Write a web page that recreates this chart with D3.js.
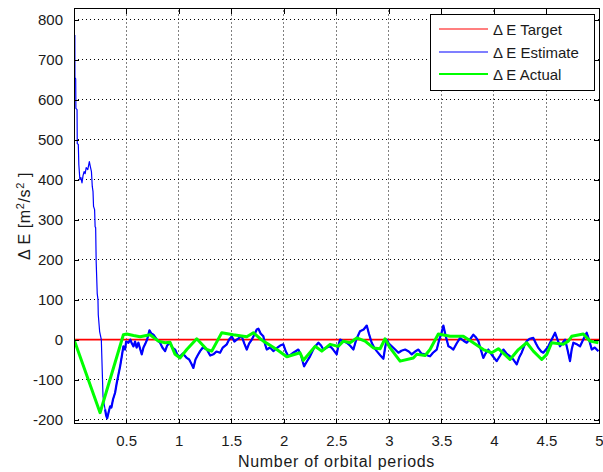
<!DOCTYPE html>
<html>
<head>
<meta charset="utf-8">
<script src="https://cdn.jsdelivr.net/npm/d3@7"></script>
<style>
  html, body { margin: 0; padding: 0; background: #fff; }
  svg text { font-family: "Liberation Sans", Arial, Helvetica, sans-serif; fill: #1a1a1a; }
</style>
</head>
<body>
<svg id="chart" width="603" height="472"></svg>
<script>
// Energy error over orbital periods: target, estimate, actual
const xTicks = [0.5, 1, 1.5, 2, 2.5, 3, 3.5, 4, 4.5, 5];
const xTickLabels = ["0.5", "1", "1.5", "2", "2.5", "3", "3.5", "4", "4.5", "5"];
const yTicks = [-200, -100, 0, 100, 200, 300, 400, 500, 600, 700, 800];
const yTickLabels = ["-200", "-100", "0", "100", "200", "300", "400", "500", "600", "700", "800"];

const targetX = [0.004, 5];
const targetY = [0, 0];

const estimateX = [0.012, 0.013, 0.02, 0.022, 0.033, 0.035, 0.045, 0.05, 0.06, 0.07, 0.08, 0.09, 0.1, 0.11, 0.12, 0.135, 0.15, 0.16, 0.17, 0.178, 0.185, 0.19, 0.2, 0.205, 0.21, 0.215, 0.225, 0.232, 0.235, 0.248, 0.264, 0.28, 0.29, 0.30, 0.31, 0.32, 0.335, 0.348, 0.36, 0.375, 0.395, 0.41, 0.425, 0.443, 0.46, 0.474, 0.49, 0.50, 0.522, 0.54, 0.555, 0.57, 0.585, 0.6, 0.617, 0.635, 0.649, 0.665, 0.68, 0.7, 0.722, 0.74, 0.76, 0.78, 0.8, 0.823, 0.845, 0.871, 0.89, 0.918, 0.94, 0.966, 0.99, 1.014, 1.04, 1.077, 1.1, 1.12, 1.14, 1.16, 1.18, 1.204, 1.23, 1.268, 1.3, 1.33, 1.36, 1.394, 1.42, 1.458, 1.48, 1.505, 1.53, 1.553, 1.58, 1.6, 1.625, 1.648, 1.67, 1.696, 1.72, 1.743, 1.759, 1.78, 1.806, 1.82, 1.838, 1.87, 1.901, 1.94, 1.966, 1.996, 2.02, 2.044, 2.08, 2.11, 2.139, 2.165, 2.193, 2.22, 2.25, 2.29, 2.33, 2.355, 2.377, 2.41, 2.441, 2.47, 2.504, 2.52, 2.536, 2.57, 2.599, 2.63, 2.663, 2.69, 2.726, 2.76, 2.79, 2.81, 2.837, 2.86, 2.885, 2.92, 2.948, 2.965, 2.98, 3.0, 3.028, 3.06, 3.091, 3.12, 3.155, 3.19, 3.218, 3.25, 3.282, 3.31, 3.345, 3.37, 3.392, 3.42, 3.456, 3.48, 3.5, 3.519, 3.54, 3.567, 3.59, 3.614, 3.645, 3.678, 3.71, 3.741, 3.77, 3.804, 3.83, 3.852, 3.875, 3.899, 3.92, 3.947, 3.985, 4.026, 4.06, 4.09, 4.12, 4.153, 4.185, 4.217, 4.24, 4.264, 4.29, 4.312, 4.34, 4.375, 4.4, 4.423, 4.45, 4.47, 4.495, 4.518, 4.55, 4.582, 4.605, 4.629, 4.655, 4.677, 4.7, 4.724, 4.74, 4.756, 4.79, 4.82, 4.85, 4.883, 4.905, 4.931, 4.96, 4.994];
const estimateY = [762, 655, 652, 578, 575, 490, 488, 437, 400, 405, 392, 410, 420, 415, 430, 425, 445, 432, 420, 383, 370, 333, 325, 282, 280, 195, 115, 100, 62, 20, 0, -142, -160, -175, -190, -197, -180, -167, -170, -150, -133, -110, -90, -67, -40, -17, -25, -5, -8, 0, -10, -17, -5, -20, -8, -25, -37, -20, -12, 0, 23, 15, 12, 5, -3, -8, -20, -29, -15, -8, -20, -25, -40, -42, -35, -46, -50, -60, -71, -50, -40, -29, -20, -25, -40, -37, -30, -33, -20, -12, 0, 8, -5, 0, 5, 8, -10, -25, -10, 0, 12, 25, 27, 15, 8, -10, -25, -20, -29, -20, -15, -12, -30, -42, -35, -30, -25, -40, -67, -55, -42, -20, -8, -15, -25, -20, -17, -25, -37, -15, 0, -5, -8, -15, -25, 0, 21, 25, 35, 15, -8, -20, -29, -40, -48, -20, 0, -10, -17, -25, -33, -28, -25, -30, -37, -30, -25, -35, -37, -40, -42, -33, -25, 0, 15, 35, 10, -17, -20, -25, -10, 4, -3, -8, 0, 12, 5, -4, -25, -46, -35, -25, -40, -54, -40, -25, -35, -42, -50, -62, -45, -33, -15, -4, 2, 4, -10, -21, -30, -33, -25, -17, 0, 17, 0, -17, -8, 0, -25, -54, -25, -8, -12, -17, 0, 17, 0, -25, -20, -29];

const actualX = [0.004, 0.252, 0.474, 0.506, 0.57, 0.633, 0.728, 0.807, 0.871, 0.918, 0.966, 1.014, 1.077, 1.172, 1.268, 1.315, 1.41, 1.52, 1.648, 1.711, 1.775, 1.806, 1.934, 2.029, 2.155, 2.187, 2.298, 2.362, 2.441, 2.52, 2.567, 2.631, 2.695, 2.774, 2.853, 2.917, 2.964, 3.012, 3.107, 3.233, 3.266, 3.345, 3.392, 3.471, 3.583, 3.709, 3.804, 3.899, 3.979, 4.042, 4.122, 4.153, 4.233, 4.312, 4.375, 4.455, 4.503, 4.55, 4.66, 4.708, 4.74, 4.851, 4.915, 4.994];
const actualY = [0, -183, 12, 14, 10, 7, 12, -4, -8, -7, -37, -46, -25, 2, -25, -29, 17, 12, 7, 17, 2, -4, -25, -43, -33, -52, -17, -29, -12, -17, -4, -8, 4, -4, -21, -23, 2, -21, -54, -46, -37, -40, -25, 14, 8, 8, -8, -25, -33, -23, -42, -50, -25, -8, -29, -50, -37, -8, -12, -4, 8, 14, -4, -8];

const seriesNames = ["\u0394 E Target", "\u0394 E Estimate", "\u0394 E Actual"];
const seriesColors = ["#ff0000", "#0000ff", "#00ff00"];

const svg = d3.select("#chart");
const plotLeft = 74, plotRight = 599, plotTop = 8.5, plotBottom = 423.5;

const x = d3.scaleLinear().domain([0.004, 5]).range([plotLeft, plotRight]);
const y = d3.scaleLinear().domain([-210, 828]).range([plotBottom, plotTop]);
const snap = v => Math.floor(v) + 0.5;

const plot = svg.append("g");

// white plot area
plot.append("rect").attr("x", plotLeft).attr("y", plotTop)
  .attr("width", plotRight - plotLeft).attr("height", plotBottom - plotTop).attr("fill", "#fff");

// dotted grid
const grid = plot.append("g").attr("stroke", "#000").attr("stroke-width", 1)
  .attr("stroke-dasharray", "1,3");
grid.selectAll("line.gx").data(xTicks.filter(t => t < 5)).join("line").attr("class", "gx")
  .attr("x1", d => snap(x(d))).attr("x2", d => snap(x(d)))
  .attr("y1", plotBottom).attr("y2", plotTop);
grid.selectAll("line.gy").data(yTicks).join("line").attr("class", "gy")
  .attr("y1", d => snap(y(d))).attr("y2", d => snap(y(d)))
  .attr("x1", plotLeft).attr("x2", plotRight);

// target level (flat, lies fully inside the axes)
plot.append("path")
  .attr("d", d3.line().x((d, i) => x(targetX[i])).y(d => y(d))(targetY))
  .attr("fill", "none").attr("stroke", seriesColors[0]).attr("stroke-width", 1.7);

// estimate and actual series
const line = (xs) => d3.line().x((d, i) => x(xs[i])).y(d => y(d));
svg.append("defs").append("clipPath").attr("id", "clip")
  .append("rect").attr("x", plotLeft + 1).attr("y", plotTop)
  .attr("width", plotRight - plotLeft - 1).attr("height", plotBottom - plotTop);
const lines = plot.append("g").attr("clip-path", "url(#clip)").attr("fill", "none")
  .attr("stroke-linejoin", "round");

lines.append("path").attr("d", line(estimateX)(estimateY))
  .attr("stroke", seriesColors[1]).attr("stroke-width", 1.2);
// the noisy settled part of the estimate reads as a thicker band
const settled = estimateX.map((v, i) => i).filter(i => estimateX[i] >= 0.3);
lines.append("path")
  .attr("d", d3.line().x(i => x(estimateX[i])).y(i => y(estimateY[i]))(settled))
  .attr("stroke", seriesColors[1]).attr("stroke-width", 2.2);
lines.append("path").attr("d", line(actualX)(actualY))
  .attr("stroke", seriesColors[2]).attr("stroke-width", 3);

// axes box with inward ticks on all sides
const axisG = plot.append("g").attr("shape-rendering", "crispEdges");
const xb = d3.axisBottom(x).tickValues(xTicks).tickSize(-5).tickFormat((d, i) => xTickLabels[i]).tickPadding(12);
const xt = d3.axisTop(x).tickValues(xTicks).tickSize(-5).tickFormat("");
const yl = d3.axisLeft(y).tickValues(yTicks).tickSize(-5).tickFormat((d, i) => yTickLabels[i]).tickPadding(11);
const yr = d3.axisRight(y).tickValues(yTicks).tickSize(-5).tickFormat("");

function styleAxis(g) {
  g.select(".domain").remove();
  g.selectAll(".tick line").attr("stroke", "#000");
  g.selectAll(".tick text").attr("font-size", 15)
    .attr("font-family", "'Liberation Sans', Arial, sans-serif").attr("fill", "#1a1a1a");
}
axisG.append("g").attr("transform", `translate(0,${plotBottom})`).call(xb).call(styleAxis);
axisG.append("g").attr("transform", `translate(0,${plotTop})`).call(xt).call(styleAxis);
axisG.append("g").attr("transform", `translate(${plotLeft},0)`).call(yl).call(styleAxis);
axisG.append("g").attr("transform", `translate(${plotRight},0)`).call(yr).call(styleAxis);
axisG.append("rect").attr("x", plotLeft + 0.5).attr("y", plotTop).attr("width", plotRight - plotLeft - 0.5)
  .attr("height", plotBottom - plotTop).attr("fill", "none").attr("stroke", "#000");

// axis labels
svg.append("text").attr("x", (plotLeft + plotRight) / 2).attr("y", 466.5)
  .attr("text-anchor", "middle").attr("font-size", 16).attr("letter-spacing", 0.7)
  .text("Number of orbital periods");

const yLab = svg.append("text")
  .attr("transform", `translate(29.5,${(plotTop + plotBottom) / 2}) rotate(-90)`)
  .attr("text-anchor", "middle").attr("font-size", 16).attr("letter-spacing", 0.6);
yLab.append("tspan").text("\u0394 E [m");
yLab.append("tspan").attr("dy", -6).attr("font-size", 11).text("2");
yLab.append("tspan").attr("dy", 6).text("/s");
yLab.append("tspan").attr("dy", -6).attr("font-size", 11).text("2");
yLab.append("tspan").attr("dy", 6).text(" ]");

// legend
const lg = svg.append("g");
lg.append("rect").attr("x", 430.5).attr("y", 14.5).attr("width", 164).attr("height", 76)
  .attr("fill", "#fff").attr("stroke", "#000").attr("shape-rendering", "crispEdges");
const rows = lg.selectAll("g.row").data(seriesNames).join("g").attr("class", "row")
  .attr("transform", (d, i) => `translate(0,${[29, 52, 74][i]})`);
rows.append("line").attr("x1", 439).attr("x2", 488).attr("y1", 0).attr("y2", 0)
  .attr("stroke", (d, i) => seriesColors[i]).attr("stroke-width", (d, i) => i === 2 ? 2 : 1.2);
rows.append("text").attr("x", 493).attr("y", 5.5).attr("font-size", 15).text(d => d);
</script>
</body>
</html>
